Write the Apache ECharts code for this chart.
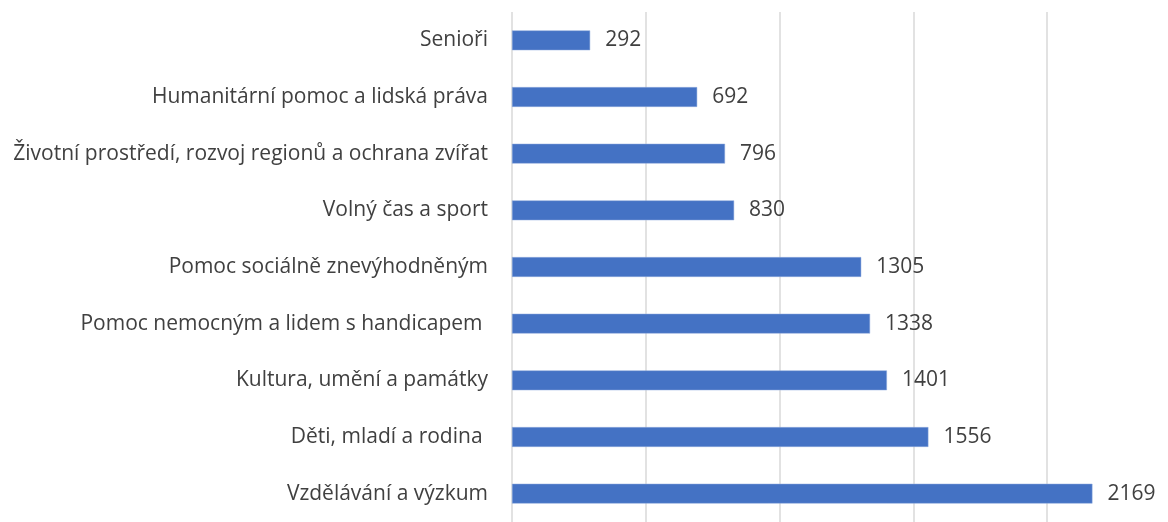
<!DOCTYPE html>
<html>
<head>
<meta charset="utf-8">
<script src="https://cdn.jsdelivr.net/npm/echarts@6/dist/echarts.min.js"></script>
<style>
  html, body { margin: 0; padding: 0; background: #fff; overflow: hidden; }
  /* plot runs past the right edge of the picture, so the canvas is wider than the window */
  #chart { width: 1200px; height: 522px; }
</style>
</head>
<body>
<div id="chart"></div>
<script>
(function () {
    'use strict';

    // top-to-bottom order, as in the picture
    var categories = [
        'Senioři',
        'Humanitární pomoc a lidská práva',
        'Životní prostředí, rozvoj regionů a ochrana zvířat',
        'Volný čas a sport',
        'Pomoc sociálně znevýhodněným',
        'Pomoc nemocným a lidem s handicapem ',
        'Kultura, umění a památky',
        'Děti, mladí a rodina ',
        'Vzdělávání a výzkum'
    ];
    var values = [292, 692, 796, 830, 1305, 1338, 1401, 1556, 2169];

    var textColor = '#404040';
    var font = '"Open Sans", Lato, sans-serif';

    var chart = echarts.init(document.getElementById('chart'));
    chart.setOption({
        animation: false,
        grid: { left: 512, top: 12, width: 669, height: 516, containLabel: false },
        xAxis: {
            type: 'value',
            min: 0,
            max: 2500,
            interval: 500,
            axisLabel: { show: false },
            axisLine: { show: false },
            axisTick: { show: false },
            splitLine: { show: true, lineStyle: { color: '#d9d9d9', width: 1.5 } }
        },
        yAxis: {
            type: 'category',
            inverse: true,
            data: categories,
            axisLine: { show: false },
            axisTick: { show: false },
            axisLabel: { color: textColor, fontSize: 21, fontFamily: font, margin: 24, padding: [2, 0, 0, 0] }
        },
        series: [{
            type: 'bar',
            data: values,
            barWidth: '35%',
            itemStyle: { color: '#4472C4', borderColor: '#8faadc', borderWidth: 0.5 },
            label: {
                show: true,
                position: 'right',
                distance: 15,
                color: textColor,
                fontSize: 21,
                fontFamily: font,
                padding: [4, 0, 0, 0]
            }
        }]
    });
})();
</script>
</body>
</html>
